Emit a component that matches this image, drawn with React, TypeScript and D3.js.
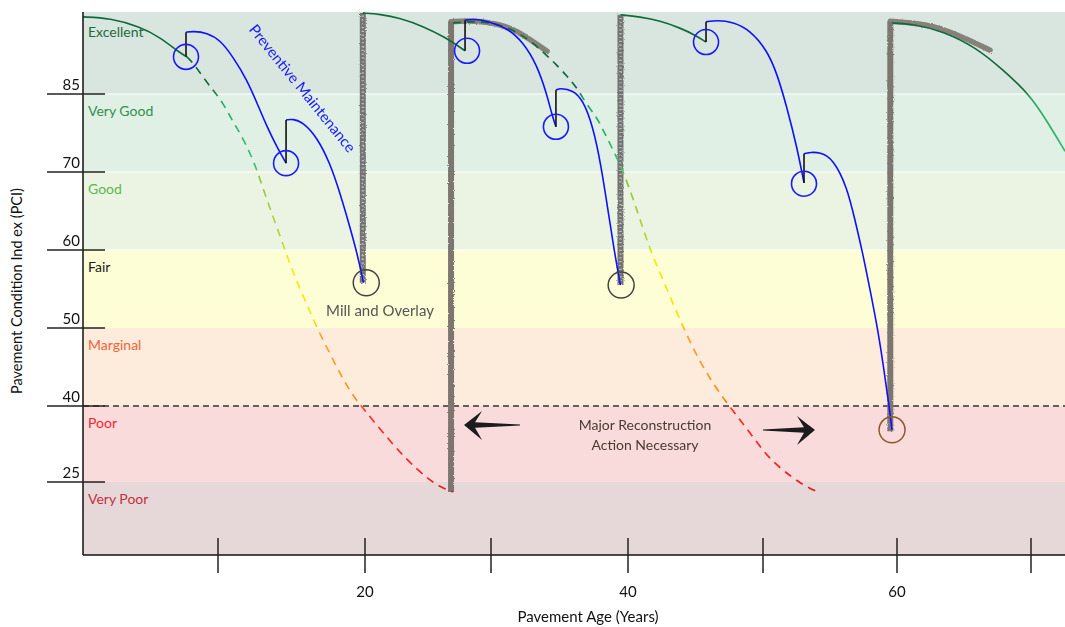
import React from "react";
import * as d3 from "d3";

// ---------- Data ----------
const bandNames = ["Excellent", "Very Good", "Good", "Fair", "Marginal", "Poor", "Very Poor"];
const bandTop = [100, 85, 70, 60, 50, 40, 25];
const bandBottom = [85, 70, 60, 50, 40, 25, 0];
const yTickValues = [85, 70, 60, 50, 40, 25];
const xTickValues = [10, 20, 30, 40, 50, 60, 70];
const xTickLabels = [20, 40, 60];
const criticalPCI = 40;

type P = [number, number];

// Do-nothing deterioration curve (age, PCI)
const doNothing1Solid: P[] = [[0, 99.1], [2.0, 98.9], [4.22, 97.3], [5.7, 95.4], [7.19, 92.5], [7.7, 91.8]];
const doNothing1Dashed: P[] = [[7.7, 91.8], [8.15, 90.7], [8.89, 88.1], [9.63, 85.7], [10.34, 83.3], [10.95, 80.0], [11.5, 77.5], [12.18, 73.7], [12.72, 69.9], [13.33, 66.4], [14.01, 62.9], [14.56, 60.0], [15.1, 57.1], [15.92, 53.6], [16.73, 50.0], [17.82, 45.9], [18.98, 41.8], [19.8, 39.8], [21.43, 34.7], [23.33, 29.3], [24.92, 25.8], [25.95, 23.3], [26.98, 21.6]];
const doNothing2Dashed: P[] = [[26.98, 98.0], [29.13, 98.4], [31.17, 97.4], [32.85, 94.9], [34.53, 91.0], [35.55, 88.3], [36.28, 86.1], [37.01, 82.9], [37.74, 80.4], [38.18, 78.1], [39.64, 70.4], [40.67, 65.1], [41.63, 60.0], [42.59, 56.2], [43.85, 51.0], [45.33, 45.5], [46.96, 41.2], [47.56, 39.8], [49.04, 34.7], [50.52, 29.3], [52.24, 25.8], [52.99, 24.0], [54.25, 21.2]];

// Preventive maintenance (blue) curves
const pm1: P[] = [[7.63, 96.3], [8.15, 96.5], [9.19, 96.2], [10.14, 94.9], [11.02, 91.8], [11.97, 87.6], [12.65, 83.3], [13.33, 78.7], [14.01, 74.8], [14.63, 71.7]];
const pm2: P[] = [[14.63, 80.0], [15.1, 80.2], [15.78, 79.6], [16.73, 76.7], [17.62, 71.7], [18.3, 67.3], [18.98, 62.9], [19.46, 59.6], [19.9, 55.8]];
const pm3: P[] = [[27.94, 98.5], [28.57, 98.7], [29.68, 98.4], [31.17, 97.1], [32.34, 94.5], [33.36, 90.3], [34.09, 84.8], [34.45, 81.0], [34.74, 78.7]];
const pm4: P[] = [[34.74, 85.7], [35.04, 86.1], [35.99, 85.7], [36.72, 83.8], [37.45, 78.7], [38.03, 71.3], [38.54, 65.1], [38.98, 60.0], [39.45, 55.5]];
const pm5: P[] = [[45.78, 98.2], [46.59, 98.5], [47.78, 98.2], [49.04, 96.7], [50.3, 93.0], [51.04, 88.8], [51.79, 82.4], [52.54, 74.7], [53.06, 68.6]];
const pm6: P[] = [[53.06, 73.5], [53.51, 73.8], [54.25, 73.8], [55.22, 72.6], [56.27, 68.1], [56.87, 63.8], [57.39, 60.0], [57.99, 54.9], [58.58, 49.7], [59.03, 44.6], [59.4, 40.1], [59.63, 35.3]];

// Mill & overlay / reconstruction curves (green)
const mill1Curve: P[] = [[19.85, 99.8], [21.19, 99.6], [22.78, 98.9], [24.6, 97.4], [26.35, 95.4], [27.94, 92.9]];
const mill2Curve: P[] = [[39.45, 99.5], [40.89, 99.1], [42.37, 98.4], [43.85, 97.1], [44.96, 95.8], [45.78, 94.5]];
const recon2Curve: P[] = [[59.63, 98.0], [61.19, 97.8], [63.43, 96.5], [65.97, 93.4], [67.91, 89.4], [69.93, 84.8], [71.19, 79.8], [72.54, 74.0]];

// Hand-drawn grey strokes
const recon1Top: P[] = [[26.83, 98.2], [28.57, 98.5], [31.17, 97.6], [32.86, 95.0], [34.09, 92.8]];
const recon2Top: P[] = [[59.5, 98.3], [62.24, 97.9], [64.7, 95.7], [66.94, 93.0]];
// [age, fromPCI, toPCI]
const millLines: [number, number, number][] = [[19.85, 55.8, 99.8], [39.45, 55.5, 99.5]];
const reconLines: [number, number, number][] = [[26.83, 21.6, 98.2], [59.5, 35.0, 98.2]];

// PM jumps [age, fromPCI, toPCI]
const pmJumps: [number, number, number][] = [[7.63, 91.8, 96.3], [14.63, 71.7, 80.0], [27.94, 92.9, 98.5], [34.74, 78.7, 85.7], [45.78, 94.5, 98.2], [53.06, 68.6, 73.5]];
const pmCircles: P[] = [[7.63, 91.8], [14.63, 71.7], [28.1, 92.9], [34.74, 78.7], [45.78, 94.5], [53.06, 68.5]];
const millCircles: P[] = [[20.1, 55.8], [39.5, 55.5]];
const reconCircles: P[] = [[59.63, 35.3]];

// Annotations
const pmLabel = { text: "Preventive Maintenance", age: 15.78, pci: 86.1 };
const millLabel = { text: "Mill and Overlay", age: 21.19, pci: 51.5 };
const reconLabel = { lines: ["Major Reconstruction", "Action Necessary"], age: 41.26, pci: [35.26, 31.3] };
const arrowLeft = { tipAge: 27.86, tailAge: 32.12, pci: 36.25 };
const arrowRight = { tipAge: 53.88, tailAge: 50.0, pci: 35.26 };

// ---------- Styles ----------
const bandFill = ["#d8e6df", "#e0f0e4", "#ebf4e2", "#fefed6", "#fdebdb", "#f9dbdc", "#e6d8d8"];
const bandText = ["#1e6b3c", "#2e9150", "#5cb84a", "#222222", "#f0643a", "#ff2030", "#c83040"];
const gradStops: [number, string][] = [
  [100, "#0e6b3a"], [86, "#0e6b3a"], [84, "#22a864"], [71, "#3cbf74"], [69, "#8cc63f"],
  [61, "#b8d832"], [59, "#f0f000"], [51, "#ffe000"], [49, "#ffa030"], [41, "#ff8c1a"],
  [39, "#ff2a1a"], [25, "#ee1c25"], [0, "#cc1020"],
];
const FONT = "Lato, 'Open Sans', sans-serif";

export default function App() {
  const W = 1065, H = 627;
  const x = d3.scaleLinear().domain([0, 10, 20, 30, 40, 50, 60, 70]).range([83, 218, 365, 491, 628, 763, 897, 1031]);
  const y = d3.scaleLinear().domain([100, 85, 70, 60, 50, 40, 25, 0]).range([12, 94, 172, 250, 328, 406, 482, 555]);
  const smooth = d3.line<P>().x(d => x(d[0])).y(d => y(d[1])).curve(d3.curveBasis);
  const left = 83, right = W, top = y(100), bottom = y(0);

  const arrowPath = (tipAge: number, tailAge: number, pci: number) => {
    const tx = x(tipAge), ty = y(pci), tl = x(tailAge);
    const s = Math.sign(tl - tx);
    return `M${tx},${ty} L${tx + s * 18},${ty - 14} L${tx + s * 11},${ty - 2.8} L${tl},${ty - 0.5} L${tl},${ty + 0.5} L${tx + s * 11},${ty + 2.8} L${tx + s * 18},${ty + 15} Z`;
  };

  return (
    <svg width={W} height={H} style={{ position: "absolute", left: 0, top: 0, background: "#fff" }} fontFamily={FONT}>
      <defs>
        <linearGradient id="pciGrad" gradientUnits="userSpaceOnUse" x1={0} y1={top} x2={0} y2={bottom}>
          {gradStops.map(([v, c], i) => (
            <stop key={i} offset={(y(v) - top) / (bottom - top)} stopColor={c} />
          ))}
        </linearGradient>
        <filter id="rough" x="-20%" y="-5%" width="140%" height="110%">
          <feTurbulence type="fractalNoise" baseFrequency="0.9" numOctaves={2} seed={3} />
          <feDisplacementMap in="SourceGraphic" scale={2.5} />
        </filter>
      </defs>

      {/* bands */}
      {bandNames.map((n, i) => (
        <rect key={n} x={left} y={y(bandTop[i])} width={right - left} height={y(bandBottom[i]) - y(bandTop[i])} fill={bandFill[i]} />
      ))}
      {bandTop.slice(1, 4).map(v => (
        <line key={v} x1={left} x2={right} y1={y(v)} y2={y(v)} stroke="#ffffff" strokeWidth={1.2} />
      ))}
      {bandNames.map((n, i) => (
        <text key={n} x={88} y={y(bandTop[i]) + (i === 0 ? 25 : 22)} fontSize={14} fill={bandText[i]}>{n}</text>
      ))}

      {/* critical line */}
      <line x1={left} x2={right} y1={y(criticalPCI)} y2={y(criticalPCI)} stroke="#333" strokeWidth={1.5} strokeDasharray="6 4" />

      {/* grey hand-drawn treatment strokes */}
      <g filter="url(#rough)">
        {reconLines.map(([a, f, t], i) => (
          <line key={i} x1={x(a)} x2={x(a)} y1={y(f)} y2={y(t)} stroke="#7d766f" strokeWidth={6} />
        ))}
        <path d={smooth(recon1Top) || ""} fill="none" stroke="#7d766f" strokeWidth={5.5} strokeLinecap="round" opacity={0.9} />
        <path d={smooth(recon2Top) || ""} fill="none" stroke="#7d766f" strokeWidth={5.5} strokeLinecap="round" opacity={0.9} />
        {millLines.map(([a, f, t], i) => (
          <g key={i}>
            <line x1={x(a)} x2={x(a)} y1={y(f)} y2={y(t)} stroke="#737373" strokeWidth={6} />
            <line x1={x(a)} x2={x(a)} y1={y(f)} y2={y(t)} stroke="#eeeeee" strokeWidth={2.4} strokeDasharray="1.2 2.6" opacity={0.6} />
          </g>
        ))}
      </g>

      {/* do-nothing curves */}
      <path d={smooth(doNothing1Solid) || ""} fill="none" stroke="url(#pciGrad)" strokeWidth={1.6} />
      <path d={smooth(doNothing1Dashed) || ""} fill="none" stroke="url(#pciGrad)" strokeWidth={1.6} strokeDasharray="8 6" />
      <path d={smooth(doNothing2Dashed) || ""} fill="none" stroke="url(#pciGrad)" strokeWidth={1.7} strokeDasharray="8 6" />
      {[mill1Curve, mill2Curve, recon2Curve].map((c, i) => (
        <path key={i} d={smooth(c) || ""} fill="none" stroke="url(#pciGrad)" strokeWidth={1.7} />
      ))}

      {/* preventive maintenance */}
      {[pm1, pm2, pm3, pm4, pm5, pm6].map((c, i) => (
        <path key={i} d={smooth(c) || ""} fill="none" stroke="#1010ff" strokeWidth={1.6} />
      ))}
      {pmJumps.map(([a, f, t], i) => (
        <line key={i} x1={x(a)} x2={x(a)} y1={y(f)} y2={y(t)} stroke="#111" strokeWidth={1.6} />
      ))}
      {pmCircles.map(([a, v], i) => (
        <circle key={i} cx={x(a)} cy={y(v)} r={12.5} fill="none" stroke="#1a1aff" strokeWidth={1.6} />
      ))}
      {millCircles.map(([a, v], i) => (
        <circle key={i} cx={x(a)} cy={y(v)} r={13} fill="none" stroke="#444" strokeWidth={1.5} />
      ))}
      {reconCircles.map(([a, v], i) => (
        <circle key={i} cx={x(a)} cy={y(v)} r={13} fill="none" stroke="#8b5a2b" strokeWidth={1.5} />
      ))}

      {/* annotations */}
      <text transform={`translate(${x(pmLabel.age)},${y(pmLabel.pci)}) rotate(51)`} textAnchor="middle" dominantBaseline="central" fontSize={15} fill="#1a1aff">{pmLabel.text}</text>
      <text x={x(millLabel.age)} y={y(millLabel.pci)} textAnchor="middle" fontSize={15} fill="#555">{millLabel.text}</text>
      {reconLabel.lines.map((t, i) => (
        <text key={i} x={x(reconLabel.age)} y={y(reconLabel.pci[i])} textAnchor="middle" fontSize={14} fill="#4a3b30">{t}</text>
      ))}
      <path d={arrowPath(arrowLeft.tipAge, arrowLeft.tailAge, arrowLeft.pci)} fill="#1c1c1c" />
      <path d={arrowPath(arrowRight.tipAge, arrowRight.tailAge, arrowRight.pci)} fill="#1c1c1c" />

      {/* axes */}
      <line x1={left} x2={left} y1={top} y2={bottom} stroke="#111" strokeWidth={1.5} />
      <line x1={left} x2={right} y1={bottom} y2={bottom} stroke="#111" strokeWidth={1.5} />
      {yTickValues.map(v => (
        <g key={v}>
          <line x1={47} x2={105} y1={y(v)} y2={y(v)} stroke="#222" strokeWidth={1.4} />
          <text x={80} y={y(v) - 4} textAnchor="end" fontSize={15} fill="#111">{v}</text>
        </g>
      ))}
      {xTickValues.map(v => (
        <line key={v} x1={x(v)} x2={x(v)} y1={bottom - 17} y2={bottom + 18} stroke="#222" strokeWidth={1.5} />
      ))}
      {xTickLabels.map(v => (
        <text key={v} x={x(v)} y={597} textAnchor="middle" fontSize={15} fill="#111">{v}</text>
      ))}
      <text x={588} y={622} textAnchor="middle" fontSize={15} fill="#111">Pavement Age (Years)</text>
      <text transform={`translate(22,291) rotate(-90)`} textAnchor="middle" fontSize={14.5} fill="#111">Pavement Condition Ind ex (PCI)</text>
    </svg>
  );
}
